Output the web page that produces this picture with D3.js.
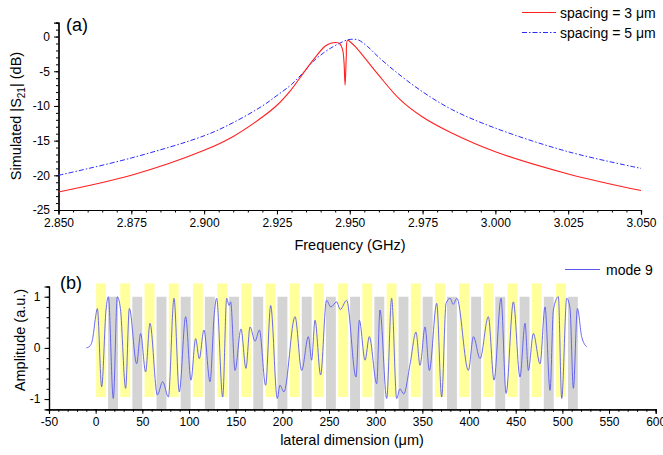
<!DOCTYPE html>
<html><head><meta charset="utf-8">
<script src="https://cdn.jsdelivr.net/npm/d3@7/dist/d3.min.js"></script>
<style>
body{margin:0;background:#fff;}
svg{font-family:"Liberation Sans",Arial,sans-serif;}
</style></head>
<body><svg id="c" width="663" height="455"></svg>
<script>
// ---------- data: panel (a) ----------
const freqTicks = [2.850,2.875,2.900,2.925,2.950,2.975,3.000,3.025,3.050];
const dbTicks = [0,-5,-10,-15,-20,-25];
const red3um = [
 [2.850,-22.4],[2.875,-20.0],[2.900,-16.4],[2.910,-14.4],[2.920,-11.6],[2.925,-9.9],[2.930,-7.6],[2.934,-5.3],
 [2.9374,-3.4],[2.9415,-1.4],[2.9435,-0.95],[2.9453,-0.85],[2.9465,-1.0],[2.9475,-1.8],[2.948,-3.5],[2.9484,-7.0],
 [2.9488,-3.0],[2.9492,-0.55],[2.950,-0.7],[2.952,-1.5],[2.955,-3.0],[2.960,-5.6],[2.9673,-9.1],[2.975,-11.6],
 [2.985,-13.9],[3.000,-16.6],[3.025,-19.8],[3.050,-22.2]
];
const blue5um = [
 [2.850,-20.0],[2.875,-17.5],[2.900,-14.3],[2.910,-12.4],[2.920,-10.0],[2.925,-8.5],[2.930,-6.9],[2.934,-5.2],
 [2.9374,-3.6],[2.9415,-2.2],[2.9445,-1.4],[2.9466,-0.95],[2.949,-0.5],[2.951,-0.38],[2.953,-0.5],[2.956,-1.4],
 [2.960,-3.0],[2.965,-4.8],[2.9741,-7.7],[2.985,-10.5],[3.000,-13.2],[3.025,-16.6],[3.050,-19.0]
];
// ---------- data: panel (b) ----------
const latTicks = [-50,0,50,100,150,200,250,300,350,400,450,500,550,600];
const ampTicks = [-1,0,1];
const yellowStarts = [0.5,26.4,52.4,78.3,104.2,130.2,156.1,182.0,208.0,233.9,259.8,285.7,311.7,337.6,363.5,389.5,415.4,441.3,467.2,493.2];
const grayStarts = [13.3,39.3,65.2,91.1,117.0,143.0,168.9,194.8,220.8,246.7,272.6,298.6,324.5,350.4,376.4,402.3,428.2,454.2,480.1,506.0];
const stripeWidth = 10.6;
const yellowRange = [-0.96,1.26];
const grayRange = [-1.2,1.0];
const mode9 = [
 [-10,0.0],[-6,0.04],[-3,0.2],[-0.5,0.55],[1.8,0.77],[6.4,-0.76],[11.1,0.74],[13.6,1.0],[18.9,-0.99],[23.2,1.0],
 [26.5,0.77],[32.1,-0.79],[36.1,0.77],[43.9,-0.31],[48.2,0.28],[53.5,-0.47],[58.2,0.48],[66.1,-0.92],[71.8,-0.66],[77.9,-0.96],
 [83.9,0.97],[89.6,-0.86],[96.4,0.61],[102.1,-0.63],[107.1,0.18],[111,-0.21],[116,0.35],[122.5,-0.66],[127.1,0.67],[129.6,0.97],
 [136.1,-0.96],[140.4,0.97],[142.9,0.83],[144.6,0.9],[149.3,-0.44],[155.7,0.37],[161,-0.4],[165.4,0.41],[170.7,0.13],[175.4,0.35],
 [182.1,-0.73],[187.5,0.83],[194.6,-0.99],[197.4,-0.73],[201.7,-0.86],[213.6,0.61],[220.7,-0.44],[227.9,0.22],[231.4,-0.24],[235,0.54],
 [241,-0.53],[247.3,0.93],[252,0.8],[258.2,0.9],[262,0.75],[268.9,0.93],[278.9,-0.57],[282.5,0.54],[288.6,-0.24],[293.2,0.22],
 [301.1,-0.7],[304.6,0.74],[311.8,-0.99],[317.1,0.97],[322.5,-0.99],[326,-0.8],[330,-0.9],[337,-0.3],[343.2,0.31],[347.5,-0.34],
 [352.9,0.41],[357.5,-0.44],[365.4,0.87],[370.7,-0.96],[375.4,0.87],[379.7,0.97],[383,0.85],[387,0.97],[399.3,-0.44],[404.7,0.22],
 [411.8,-0.21],[420.7,0.61],[426.8,-0.63],[434.3,0.97],[439.7,-0.89],[447.5,0.9],[454.6,-0.57],[460,0.48],[463.6,-0.44],[468.9,0.28],
 [476.1,-0.31],[481.4,0.8],[486.8,-0.83],[490.4,0.74],[495.7,1.0],[499.3,-0.99],[504.7,0.97],[508.2,0.77],[511.8,-0.79],[516.1,0.77],
 [520.7,0.22],[526.1,0.02]
];

const svg = d3.select("#c");
const fmtMinus = f => (d => f(d).replace("\u2212","-"));

// ---------- panel (a) ----------
const xa = d3.scaleLinear([2.85,3.05],[58.5,641]);
const ya = d3.scaleLinear([-25,2],[210,22.7]);

function styleAxis(g){
  g.selectAll("path.domain").attr("stroke","#000").attr("stroke-width",1.2);
  g.selectAll(".tick line").attr("stroke","#000").attr("stroke-width",1);
  g.selectAll("text").attr("font-size","12px").attr("fill","#000").attr("font-family","Liberation Sans, Arial, sans-serif");
}
svg.append("g").attr("transform","translate(0,210)")
  .call(d3.axisBottom(xa).tickValues(d3.range(0,41).map(i=>2.85+i*0.005)).tickSize(2.5).tickFormat(""))
  .call(styleAxis);
svg.append("g").attr("transform","translate(0,210)")
  .call(d3.axisBottom(xa).tickValues(freqTicks).tickSize(4.5).tickPadding(4).tickFormat(d3.format(".3f")))
  .call(styleAxis);
svg.append("g").attr("transform","translate(58.5,0)")
  .call(d3.axisLeft(ya).tickValues(d3.range(-25,3,1)).tickSize(2.5).tickFormat(""))
  .call(styleAxis);
svg.append("g").attr("transform","translate(58.5,0)")
  .call(d3.axisLeft(ya).tickValues(dbTicks).tickSize(4.5).tickPadding(4).tickFormat(fmtMinus(d3.format("d"))))
  .call(styleAxis);

const lineA = d3.line().x(d=>xa(d[0])).y(d=>ya(d[1])).curve(d3.curveCatmullRom.alpha(0.5));
svg.append("path").datum(blue5um).attr("d",lineA).attr("fill","none")
  .attr("stroke","#2b2bff").attr("stroke-width",1).attr("stroke-dasharray","5,2,1.5,2");
svg.append("path").datum(red3um).attr("d",lineA).attr("fill","none")
  .attr("stroke","#ff2020").attr("stroke-width",1.1);

svg.append("text").attr("x",66).attr("y",31).attr("font-size","18px").text("(a)");
svg.append("text").attr("transform","translate(21,116) rotate(-90)").attr("text-anchor","middle")
  .attr("font-size","14.5px")
  .call(t=>{t.append("tspan").text("Simulated |S");
           t.append("tspan").attr("font-size","10px").attr("dy",4).text("21");
           t.append("tspan").attr("dy",-4).text("| (dB)");});
svg.append("text").attr("x",350).attr("y",250).attr("text-anchor","middle").attr("font-size","14.5px").text("Frequency (GHz)");

const legA = [["spacing = 3 \u03bcm","#ff2020",null,12.5],["spacing = 5 \u03bcm","#2b2bff","5,2,1.5,2",32.5]];
legA.forEach(l=>{
  svg.append("line").attr("x1",522).attr("x2",556).attr("y1",l[3]).attr("y2",l[3])
    .attr("stroke",l[1]).attr("stroke-width",1).attr("stroke-dasharray",l[2]);
  svg.append("text").attr("x",560).attr("y",l[3]+5).attr("font-size","14px").text(l[0]);
});

// ---------- panel (b) ----------
const xb = d3.scaleLinear([-50,600],[49,655.7]);
const yb = d3.scaleLinear([-1.2,1.2],[409.3,286.5]);

svg.append("g").selectAll("rect.y").data(yellowStarts).join("rect")
  .attr("x",d=>xb(d)).attr("width",d=>xb(d+stripeWidth)-xb(d))
  .attr("y",yb(yellowRange[1])).attr("height",yb(yellowRange[0])-yb(yellowRange[1]))
  .attr("fill","#ffff9c");
svg.append("g").selectAll("rect.g").data(grayStarts).join("rect")
  .attr("x",d=>xb(d)).attr("width",d=>xb(d+stripeWidth)-xb(d))
  .attr("y",yb(grayRange[1])).attr("height",yb(grayRange[0])-yb(grayRange[1]))
  .attr("fill","#d4d4d4");

svg.append("g").attr("transform","translate(0,409.3)")
  .call(d3.axisBottom(xb).tickValues(d3.range(-50,601,10)).tickSize(2.5).tickFormat(""))
  .call(styleAxis);
svg.append("g").attr("transform","translate(0,409.3)")
  .call(d3.axisBottom(xb).tickValues(latTicks).tickSize(4.5).tickPadding(4).tickFormat(fmtMinus(d3.format("d"))))
  .call(styleAxis);
svg.append("g").attr("transform","translate(49,0)")
  .call(d3.axisLeft(yb).tickValues(d3.range(-6,7).map(i=>i*0.2)).tickSize(2.5).tickFormat(""))
  .call(styleAxis);
svg.append("g").attr("transform","translate(49,0)")
  .call(d3.axisLeft(yb).tickValues(ampTicks).tickSize(4.5).tickPadding(4).tickFormat(fmtMinus(d3.format("d"))))
  .call(styleAxis);

const lineB = d3.line().x(d=>xb(d[0])).y(d=>yb(d[1])).curve(d3.curveMonotoneX);
svg.append("path").datum(mode9).attr("d",lineB).attr("fill","none")
  .attr("stroke","#5a5af0").attr("stroke-width",0.9);

svg.append("text").attr("x",60).attr("y",289).attr("font-size","18px").text("(b)");
svg.append("text").attr("transform","translate(25,340) rotate(-90)").attr("text-anchor","middle")
  .attr("font-size","14.5px").text("Amplitude (a.u.)");
svg.append("text").attr("x",352).attr("y",445).attr("text-anchor","middle").attr("font-size","14.5px").text("lateral dimension (\u03bcm)");

svg.append("line").attr("x1",565).attr("x2",600).attr("y1",269.5).attr("y2",269.5)
  .attr("stroke","#5a5af0").attr("stroke-width",1);
svg.append("text").attr("x",606).attr("y",274.5).attr("font-size","14px").text("mode 9");
</script></body></html>
